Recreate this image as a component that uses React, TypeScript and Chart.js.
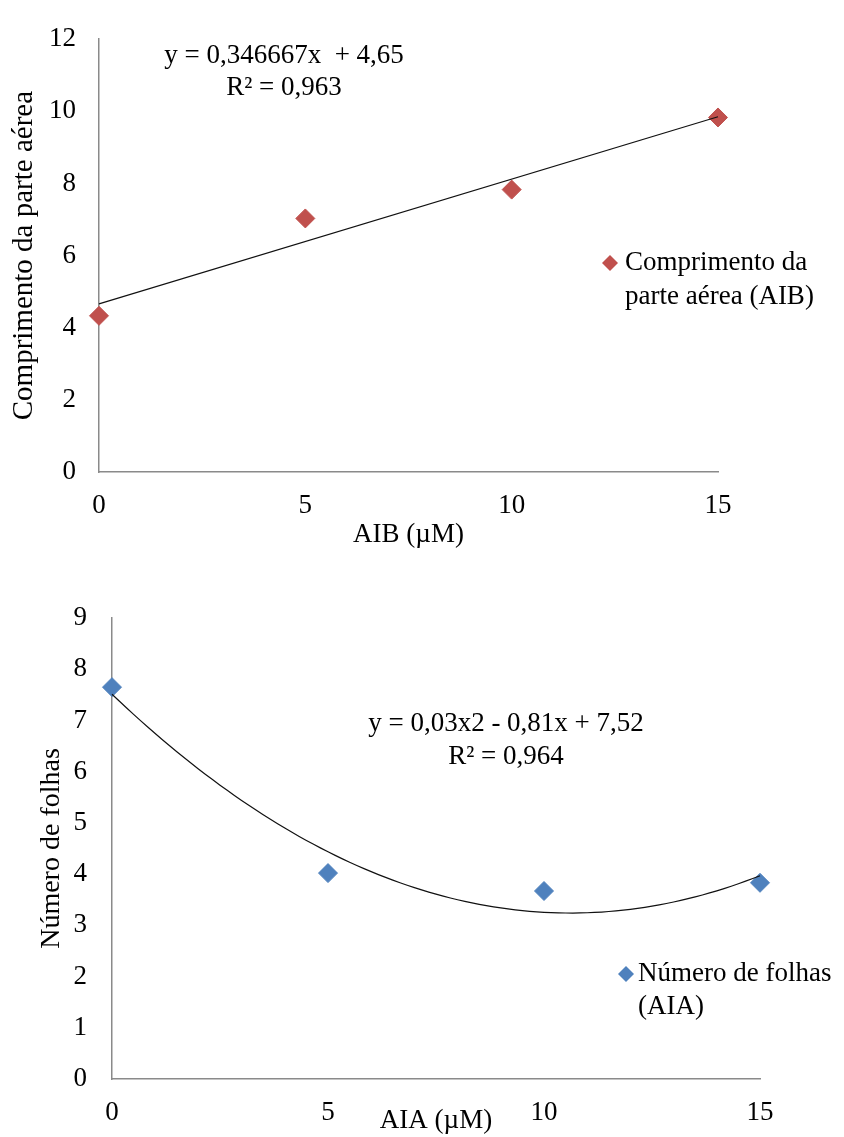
import React, { useEffect, useRef } from "react";
import { Chart, registerables } from "chart.js";

Chart.register(...registerables);

// ---------- data ----------
const aibDoses = [0, 5, 10, 15];
const aibShootLength = [4.33, 7.03, 7.83, 9.83];
const aiaDoses = [0, 5, 10, 15];
const aiaLeafCount = [7.65, 4.02, 3.67, 3.83];

const xTickValues = [0, 5, 10, 15];
const topYTickValues = [0, 2, 4, 6, 8, 10, 12];
const bottomYTickValues = [0, 1, 2, 3, 4, 5, 6, 7, 8, 9];

const topXTitle = "AIB (µM)";
const topYTitle = "Comprimento da parte aérea";
const topLegendLines = ["Comprimento da", "parte aérea (AIB)"];
const topEquationLines = ["y = 0,346667x  + 4,65", "R² = 0,963"];

const bottomXTitle = "AIA (µM)";
const bottomYTitle = "Número de folhas";
const bottomLegendLines = ["Número de folhas", "(AIA)"];
const bottomEquationLines = ["y = 0,03x2 - 0,81x + 7,52", "R² = 0,964"];

const RED = "#C0504D";
const BLUE = "#4F81BD";
const AXIS = "#8a8a8a";
const FONT = "'Liberation Serif', 'Times New Roman', serif";
const FS = 27;

// least squares polynomial fit (what the spreadsheet trendline does)
function fitPolynomial(xs: number[], ys: number[], degree: number): number[] {
  const n = degree + 1;
  const A: number[][] = Array.from({ length: n }, () => new Array(n + 1).fill(0));
  for (let k = 0; k < xs.length; k++) {
    for (let i = 0; i < n; i++) {
      for (let j = 0; j < n; j++) A[i][j] += Math.pow(xs[k], i + j);
      A[i][n] += ys[k] * Math.pow(xs[k], i);
    }
  }
  for (let c = 0; c < n; c++) {
    let p = c;
    for (let r = c + 1; r < n; r++) if (Math.abs(A[r][c]) > Math.abs(A[p][c])) p = r;
    const tmp = A[c];
    A[c] = A[p];
    A[p] = tmp;
    for (let r = 0; r < n; r++) {
      if (r === c) continue;
      const f = A[r][c] / A[c][c];
      for (let k = c; k <= n; k++) A[r][k] -= f * A[c][k];
    }
  }
  return A.map((row, i) => row[n] / row[i]);
}

function trendPoints(xs: number[], ys: number[], degree: number) {
  const coef = fitPolynomial(xs, ys, degree);
  const lo = Math.min(...xs);
  const hi = Math.max(...xs);
  const steps = degree === 1 ? 1 : 90;
  const pts: { x: number; y: number }[] = [];
  for (let i = 0; i <= steps; i++) {
    const x = lo + ((hi - lo) * i) / steps;
    let y = 0;
    coef.forEach((c, p) => (y += c * Math.pow(x, p)));
    pts.push({ x, y });
  }
  return pts;
}

type Spec = {
  width: number;
  height: number;
  doses: number[];
  values: number[];
  degree: number;
  color: string;
  yTicks: number[];
  xTitle: string;
  yTitle: string;
  yTitleSize: number;
  legendLines: string[];
  equationLines: string[];
  padding: { top: number; right: number; bottom: number; left: number };
  yAxisWidth: number;
  xAxisHeight: number;
  yTitlePad: number;
  yTickPad: number;
  xTickPad: number;
  eq: { x: number; y: number; gap: number };
  legend: { mx: number; my: number; tx: number; gap: number };
};

function diamond(ctx: CanvasRenderingContext2D, x: number, y: number, r: number, color: string) {
  ctx.beginPath();
  ctx.moveTo(x - r, y);
  ctx.lineTo(x, y - r);
  ctx.lineTo(x + r, y);
  ctx.lineTo(x, y + r);
  ctx.closePath();
  ctx.fillStyle = color;
  ctx.fill();
}

function makeConfig(spec: Spec): any {
  const overlay = {
    id: "overlayText",
    afterDraw(chart: any) {
      const ctx: CanvasRenderingContext2D = chart.ctx;
      ctx.save();
      ctx.font = `${FS}px ${FONT}`;
      ctx.fillStyle = "#000";
      ctx.textBaseline = "middle";
      ctx.textAlign = "center";
      spec.equationLines.forEach((t, i) => ctx.fillText(t, spec.eq.x, spec.eq.y + i * spec.eq.gap));
      diamond(ctx, spec.legend.mx, spec.legend.my, 8, spec.color);
      ctx.fillStyle = "#000";
      ctx.textAlign = "left";
      spec.legendLines.forEach((t, i) => ctx.fillText(t, spec.legend.tx, spec.legend.my + i * spec.legend.gap));
      ctx.restore();
    },
  };

  const tickFont = { family: FONT, size: FS };
  return {
    type: "scatter",
    data: {
      datasets: [
        {
          label: "trend",
          data: trendPoints(spec.doses, spec.values, spec.degree),
          showLine: true,
          borderColor: "#111",
          borderWidth: 1.2,
          pointRadius: 0,
          tension: 0,
          clip: false,
        },
        {
          label: spec.legendLines.join(" "),
          data: spec.doses.map((x, i) => ({ x, y: spec.values[i] })),
          pointStyle: "rectRot",
          pointRadius: 9.5,
          pointBackgroundColor: spec.color,
          pointBorderColor: spec.color,
          pointBorderWidth: 1,
          showLine: false,
          clip: false,
        },
      ],
    },
    options: {
      responsive: false,
      animation: false,
      layout: { padding: spec.padding },
      plugins: { legend: { display: false }, tooltip: { enabled: false } },
      scales: {
        x: {
          type: "linear",
          min: 0,
          max: 15,
          afterBuildTicks: (s: any) => {
            s.ticks = xTickValues.map((v) => ({ value: v }));
          },
          afterFit: (s: any) => {
            s.height = spec.xAxisHeight;
          },
          grid: { display: false, drawTicks: false },
          border: { display: true, color: AXIS, width: 1.5 },
          ticks: { font: tickFont, color: "#000", padding: spec.xTickPad, maxRotation: 0 },
          title: { display: true, text: spec.xTitle, font: tickFont, color: "#000", padding: 0 },
        },
        y: {
          type: "linear",
          min: 0,
          max: spec.yTicks[spec.yTicks.length - 1],
          afterBuildTicks: (s: any) => {
            s.ticks = spec.yTicks.map((v) => ({ value: v }));
          },
          afterFit: (s: any) => {
            s.width = spec.yAxisWidth;
          },
          grid: { display: false, drawTicks: false },
          border: { display: true, color: AXIS, width: 1.5 },
          ticks: { font: tickFont, color: "#000", padding: spec.yTickPad },
          title: {
            display: true,
            text: spec.yTitle,
            font: { family: FONT, size: spec.yTitleSize },
            color: "#000",
            padding: { top: spec.yTitlePad, bottom: 0 },
          },
        },
      },
    },
    plugins: [overlay],
  };
}

const topSpec: Spec = {
  width: 844,
  height: 560,
  doses: aibDoses,
  values: aibShootLength,
  degree: 1,
  color: RED,
  yTicks: topYTickValues,
  xTitle: topXTitle,
  yTitle: topYTitle,
  yTitleSize: 29,
  legendLines: topLegendLines,
  equationLines: topEquationLines,
  padding: { top: 28, right: 126, bottom: 9, left: 0 },
  yAxisWidth: 99,
  xAxisHeight: 79,
  yTitlePad: 7,
  yTickPad: 23,
  xTickPad: 18,
  eq: { x: 284, y: 56, gap: 32 },
  legend: { mx: 610, my: 263, tx: 625, gap: 34 },
};

const bottomSpec: Spec = {
  width: 844,
  height: 577,
  doses: aiaDoses,
  values: aiaLeafCount,
  degree: 2,
  color: BLUE,
  yTicks: bottomYTickValues,
  xTitle: bottomXTitle,
  yTitle: bottomYTitle,
  yTitleSize: 28,
  legendLines: bottomLegendLines,
  equationLines: bottomEquationLines,
  padding: { top: 58, right: 84, bottom: 0, left: 0 },
  yAxisWidth: 112,
  xAxisHeight: 58,
  yTitlePad: 35,
  yTickPad: 25,
  xTickPad: 18,
  eq: { x: 506, y: 164, gap: 33 },
  legend: { mx: 626, my: 414, tx: 638, gap: 33 },
};

function ChartCanvas({ spec, top }: { spec: Spec; top: number }) {
  const ref = useRef<HTMLCanvasElement | null>(null);
  useEffect(() => {
    if (!ref.current) return;
    const chart = new Chart(ref.current, makeConfig(spec));
    return () => chart.destroy();
  }, [spec]);
  return (
    <canvas
      ref={ref}
      width={spec.width}
      height={spec.height}
      style={{ position: "absolute", left: 0, top, width: spec.width, height: spec.height }}
    />
  );
}

export default function App() {
  return (
    <div style={{ position: "absolute", left: 0, top: 0, width: 844, height: 1137, background: "#fff" }}>
      <ChartCanvas spec={topSpec} top={0} />
      <ChartCanvas spec={bottomSpec} top={560} />
    </div>
  );
}
